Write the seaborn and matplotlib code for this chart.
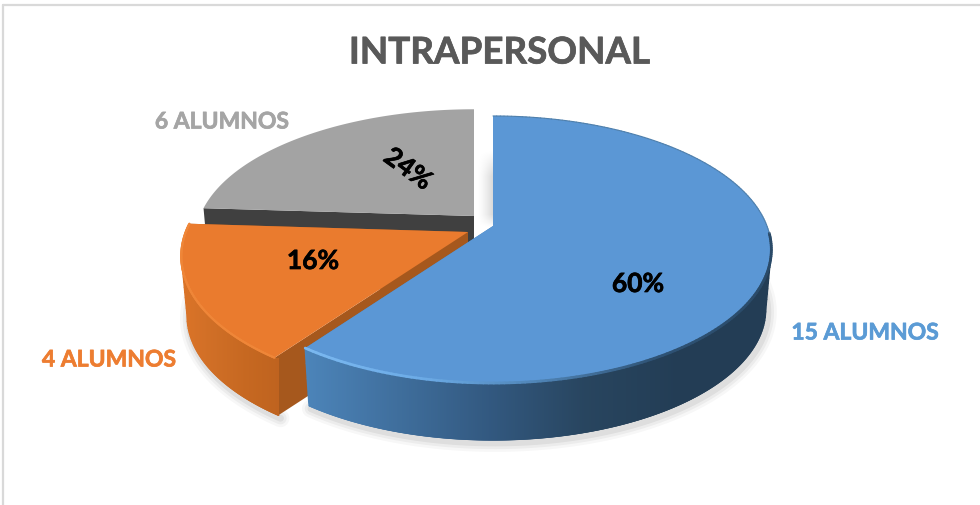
import numpy as np
import matplotlib
matplotlib.use("Agg")
import matplotlib.pyplot as plt
import matplotlib.patheffects as pe
import seaborn as sns
from matplotlib.collections import LineCollection
from matplotlib.colors import LinearSegmentedColormap

# datos
title = "INTRAPERSONAL"
alumnos = [15, 4, 6]
colors = sns.color_palette(["#5B97D5", "#EA7B2E", "#A3A3A3"])
label_colors = ["#5B9BD5", "#ED7D31", "#A5A5A5"]

sns.set_theme(style="white")
plt.rcParams["font.family"] = ["Lato", "DejaVu Sans"]

# proyeccion del pastel
A, B, K = 274.0, 129.4, 0.176
DEPTH, SHRINK = 60.0, 0.98
apex = [(493, 226), (468, 232), (474, 216)]
scale = [1.0, 1.03, 1.0]
yscale = [1.0, 1.0, 0.97]
side_cmaps = [
    ["#4C84B9", "#3F6E9C", "#32587F", "#28455F", "#233D55", "#233D55"],
    ["#DB7428", "#CF6E26", "#C66821", "#BF631F"],
]


def project(theta, i):
    x, y = np.cos(theta), np.sin(theta)
    s = 1 / (1 + K * y)
    return A * scale[i] * x * s, -B * scale[i] * yscale[i] * y * s


def top_pts(theta, i):
    dx, dy = project(theta, i)
    return np.column_stack([apex[i][0] + dx, apex[i][1] + dy])


def bot_pts(theta, i):
    dx, dy = project(theta, i)
    return np.column_stack([apex[i][0] + dx * SHRINK, apex[i][1] + dy * SHRINK + DEPTH])


fig = plt.figure(figsize=(9.8, 5.05), dpi=100)
ax = fig.add_axes([0, 0, 1, 1])
ax.axis("off")

ax.plot([3, 3], [5, 505], color="#D9D9D9", lw=1.6)
ax.plot([3, 980], [5, 5], color="#D9D9D9", lw=1.6)

# angulos de cada sector, sentido horario desde las 12
fracs = np.array(alumnos) / sum(alumnos)
ends = np.pi / 2 - np.cumsum(fracs) * 2 * np.pi
starts = np.concatenate([[np.pi / 2], ends[:-1]])
arcs = [np.linspace(a, b, 240) for a, b in zip(starts, ends)]

# sombra suave bajo el pastel
for lw, alpha in [(13, 0.03), (9, 0.045), (5, 0.06)]:
    for i in (1, 0):
        low = arcs[i][bot_pts(arcs[i], i)[:, 1] > apex[i][1] + 50]
        p = bot_pts(low, i)
        ax.plot(p[:, 0] + 2, p[:, 1] + 3, color="black", lw=lw, alpha=alpha, solid_capstyle="round", zorder=1)

# sombra del hueco junto al sector azul
gx = np.linspace(0, 1, 20)
gy = np.linspace(0, 1, 60)
shade = np.zeros((60, 20, 4))
shade[..., 3] = 0.15 * gx[None, :] ** 1.5 * np.clip(gy[:, None] * 3, 0, 1) * np.clip((1 - gy[:, None]) * 6, 0, 1)
ax.imshow(shade, extent=(476, 493, 228, 150), aspect="auto", zorder=1)

# se dibuja de atras hacia delante: gris, naranja, azul
for z, i in enumerate([2, 1, 0]):
    arc = arcs[i]
    ap = np.array(apex[i], dtype=float)
    base = 2 + z * 5

    # caras interiores del corte
    for edge in (arc[0], arc[-1]):
        t = top_pts(np.array([edge]), i)[0]
        b = bot_pts(np.array([edge]), i)[0]
        face = "#404040" if i == 2 else ("#A6581D" if i == 1 else "#4C84B9")
        ax.fill([ap[0], t[0], b[0], ap[0]], [ap[1], t[1], b[1], ap[1] + DEPTH], color=face, lw=0, zorder=base)

    tp, bp = top_pts(arc, i), bot_pts(arc, i)

    # lateral con degradado horizontal, por columnas (el gris queda oculto)
    if i != 2:
        if i == 0:
            k = np.argmax(tp[:, 0])
            upper = tp[k:][::-1]
            lower = np.vstack([tp[-1], bp[k:][::-1], tp[k]])
        else:
            # el naranja corre de la esquina frontal hacia la izquierda
            k = np.argmin(tp[:, 0])
            upper = tp[:k + 1][::-1]
            lower = np.vstack([tp[k], bp[:k + 1][::-1]])
        xs = np.arange(upper[:, 0].min(), lower[:, 0].max() + 0.5, 0.5)
        yu = np.interp(xs, upper[:, 0], upper[:, 1])
        yl = np.interp(xs, lower[:, 0], lower[:, 1])
        cmap = LinearSegmentedColormap.from_list("side", side_cmaps[i])
        shades = np.linspace(0, 1, len(xs) - 1)
        ax.pcolormesh(np.vstack([xs, xs]), np.vstack([yu, yl]), shades[None, :], cmap=cmap,
                      shading="flat", zorder=base + 1)
        # borde inferior suavizado
        pts = np.column_stack([xs, yl])
        ax.add_collection(LineCollection(np.stack([pts[:-1], pts[1:]], axis=1), colors=cmap(shades),
                                         linewidths=1.0, capstyle="round", zorder=base + 1))

    # cara superior
    poly = np.vstack([ap, tp])
    ax.fill(poly[:, 0], poly[:, 1], color=colors[i], lw=0, zorder=base + 2)

    # bisel del borde
    x_mid = tp[:-1, 0]
    segs = np.stack([tp[:-1], tp[1:]], axis=1)
    if i == 0:
        pos = (x_mid - x_mid.min()) / (x_mid.max() - x_mid.min())
        front = tp[:-1, 1] > apex[0][1] + 5
        bevel = LinearSegmentedColormap.from_list("b", ["#7AB8F0", "#6CABE6", "#4F84B6", "#2F5375", "#2A4A68"])
        ax.add_collection(LineCollection(segs[front], colors=bevel(pos[front]), linewidths=2.0,
                                         capstyle="round", zorder=base + 3))
        ax.add_collection(LineCollection(segs[~front], colors="#4F80AD", linewidths=0.8,
                                         capstyle="round", zorder=base + 3))
    elif i == 1:
        ax.add_collection(LineCollection(segs, colors="#EF8638", linewidths=1.6, capstyle="round", zorder=base + 3))

# etiquetas
thick = [pe.withStroke(linewidth=0.5, foreground="black")]
total = sum(alumnos)
pct_pos = [(638, 284, 0), (313, 261, 0), (408, 169, -36)]
for v, (x, y, rot) in zip(alumnos, pct_pos):
    ax.text(x, y, f"{v / total * 100:.0f}%", ha="center", va="center", rotation=rot,
            rotation_mode="anchor", fontsize=19, fontweight="bold", color="black", zorder=30,
            path_effects=thick)

label_pos = [(865, 333), (109, 360), (222, 122)]
for v, c, (x, y) in zip(alumnos, label_colors, label_pos):
    ax.text(x, y, f"{v} ALUMNOS", ha="center", va="center", fontsize=16.5, fontweight="bold", color=c, zorder=30,
            path_effects=[pe.withStroke(linewidth=0.5, foreground=c)])

ax.text(499.5, 53, title, ha="center", va="center", fontsize=26.5, fontweight="bold", color="#595959", zorder=30,
        path_effects=[pe.withStroke(linewidth=0.5, foreground="#595959")])

ax.set_xlim(0, 980)
ax.set_ylim(505, 0)

fig.savefig("out.png", dpi=100)
